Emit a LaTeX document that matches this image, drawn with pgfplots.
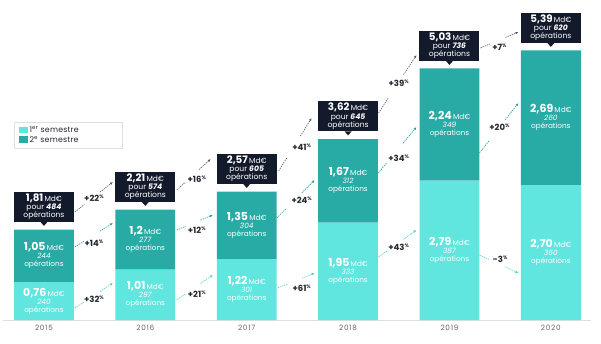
\documentclass[border=0pt]{standalone}
\usepackage{fontspec}
\setmainfont{Poppins}
\usepackage{pgfplots}
\pgfplotsset{compat=1.18}
\usetikzlibrary{calc,arrows.meta}
\definecolor{sem1}{HTML}{60E5DF}
\definecolor{sem2}{HTML}{28AAA5}
\definecolor{navy}{HTML}{121A2B}
\definecolor{arr1}{HTML}{4CCFCA}
\definecolor{arr2}{HTML}{2A9E9A}
\definecolor{arrT}{HTML}{555B66}
\definecolor{txt}{HTML}{23262D}

\tikzset{
  segtxt/.style={text=white, align=center, inner sep=0pt, font=\fontsize{7.3}{8}\selectfont},
  totbox/.style={fill=navy, text=white, align=center, inner sep=0pt, minimum width=60pt, minimum height=30pt, font=\fontsize{7.6}{8.3}\selectfont, anchor=south, yshift=7.5pt},
  pct/.style={text=txt, inner sep=0.8pt, font=\fontsize{8.5}{9}\selectfont\bfseries},
  dpat/.style={line width=0.6pt, dash pattern=on 1.4pt off 0.9pt},
}
\newcommand{\seg}[3]{\node[segtxt] at (#1) {{\fontsize{11}{8}\selectfont\bfseries #2}\,{\fontsize{7.3}{8}\selectfont Md€}\\{\itshape #3}\\opérations};}
\newcommand{\tot}[4]{\node[totbox] at (axis cs:#1,#2) {{\fontsize{10.3}{8.3}\selectfont\bfseries #3}\,{\fontsize{7.4}{8.3}\selectfont Md€}\\pour \textbf{\textit{#4}}\\opérations};
  \fill[navy] ([xshift=-3.5pt,yshift=7.6pt]axis cs:#1,#2) -- ([xshift=3.5pt,yshift=7.6pt]axis cs:#1,#2) -- ([yshift=3.6pt]axis cs:#1,#2) -- cycle;}
\newcommand{\pc}[1]{#1{\fontsize{5}{5}\selectfont\raisebox{2.6pt}{\%}}}
\newcommand{\parr}[8]{%
  \draw[#1,dpat] (axis cs:#2,#3) -- ($(axis cs:#2,#3)!0.25!(axis cs:#4,#5)$);
  \draw[#1,dpat,-{Latex[length=3pt,width=2.6pt]}] ($(axis cs:#2,#3)!0.66!(axis cs:#4,#5)$) -- (axis cs:#4,#5);
  \node[pct] at (axis cs:#6,#7) {\pc{#8}};}

\begin{document}
\begin{tikzpicture}
\useasboundingbox (-3.4pt,-23pt) rectangle (597.6pt,320pt);
\begin{axis}[
  scale only axis, width=588pt, height=320pt,
  xmin=-0.4, xmax=5.4, ymin=0, ymax=6.4,
  ybar stacked, bar width=0.59,
  axis y line=none, axis x line*=bottom,
  x axis line style={draw=gray!25, line width=0.6pt},
  xtick={0,1,2,3,4,5},
  xticklabels={2015,2016,2017,2018,2019,2020},
  major tick length=0pt,
  xticklabel style={font=\fontsize{7.3}{8}\selectfont\addfontfeature{LetterSpace=10}, text=gray!80!black, yshift=-1.5pt},
  clip=false,
  legend style={at={(axis cs:-0.296,3.96)}, anchor=north west, draw=gray!25, line width=0.6pt, fill=white,
    font=\fontsize{7.8}{8}\selectfont\addfontfeature{LetterSpace=3}, text=txt, inner xsep=5pt, inner ysep=2.5pt, row sep=-2pt,
    cells={anchor=west}},
  legend image code/.code={\fill[#1] (0pt,-3pt) rectangle (8.5pt,3.5pt);},
]
\addplot+[fill=sem1, draw=none] coordinates {(0,0.76) (1,1.01) (2,1.22) (3,1.95) (4,2.79) (5,2.70)};
\addlegendentry{\makebox[86pt][l]{1\textsuperscript{er} semestre}}
\addplot+[fill=sem2, draw=none] coordinates {(0,1.05) (1,1.2) (2,1.35) (3,1.67) (4,2.24) (5,2.69)};
\addlegendentry{\makebox[86pt][l]{2\textsuperscript{e} semestre}}

% segment label anchors
\coordinate (p0) at (axis cs:0,0.38);
\coordinate (p1) at (axis cs:1,0.505);
\coordinate (p2) at (axis cs:2,0.61);
\coordinate (p3) at (axis cs:3,0.975);
\coordinate (p4) at (axis cs:4,1.395);
\coordinate (p5) at (axis cs:5,1.35);
\coordinate (q0) at (axis cs:0,1.285);
\coordinate (q1) at (axis cs:1,1.61);
\coordinate (q2) at (axis cs:2,1.895);
\coordinate (q3) at (axis cs:3,2.785);
\coordinate (q4) at (axis cs:4,3.91);
\coordinate (q5) at (axis cs:5,4.045);

% totals
\tot{0}{1.81}{1,81}{484}
\tot{1}{2.21}{2,21}{574}
\tot{2}{2.57}{2,57}{605}
\tot{3}{3.62}{3,62}{645}
\tot{4}{5.03}{5,03}{736}
\tot{5}{5.39}{5,39}{620}

% growth arrows: totals
\parr{arrT}{0.305}{2.16}{0.680}{2.76}{0.493}{2.44}{+22}
\parr{arrT}{1.310}{2.60}{1.645}{3.22}{1.507}{2.82}{+16}
\parr{arrT}{2.315}{2.98}{2.640}{4.04}{2.542}{3.46}{+41}
\parr{arrT}{3.300}{4.14}{3.675}{5.30}{3.498}{4.74}{+39}
\parr{arrT}{4.305}{5.44}{4.680}{5.76}{4.493}{5.46}{+7}
% 2nd semester
\parr{arr2}{0.305}{1.46}{0.680}{1.94}{0.493}{1.54}{+14}
\parr{arr2}{1.310}{1.80}{1.665}{2.10}{1.507}{1.80}{+12}
\parr{arr2}{2.296}{2.04}{2.670}{2.80}{2.542}{2.40}{+24}
\parr{arr2}{3.281}{2.90}{3.675}{3.86}{3.498}{3.24}{+34}
\parr{arr2}{4.296}{3.34}{4.680}{4.34}{4.493}{3.86}{+20}
% 1st semester
\parr{arr1}{0.305}{0.24}{0.680}{0.74}{0.493}{0.42}{+32}
\parr{arr1}{1.310}{0.40}{1.665}{0.90}{1.507}{0.52}{+21}
\parr{arr1}{2.305}{0.64}{2.670}{0.94}{2.542}{0.64}{+61}
\parr{arr1}{3.300}{1.26}{3.675}{1.80}{3.498}{1.46}{+43}
\parr{arr1}{4.296}{1.30}{4.680}{0.94}{4.500}{1.22}{-3}
\end{axis}
% labels inside the bar segments
\seg{p0}{0,76}{240}
\seg{p1}{1,01}{297}
\seg{p2}{1,22}{301}
\seg{p3}{1,95}{333}
\seg{p4}{2,79}{387}
\seg{p5}{2,70}{360}
\seg{q0}{1,05}{244}
\seg{q1}{1,2}{277}
\seg{q2}{1,35}{304}
\seg{q3}{1,67}{312}
\seg{q4}{2,24}{349}
\seg{q5}{2,69}{260}
\end{tikzpicture}
\end{document}
